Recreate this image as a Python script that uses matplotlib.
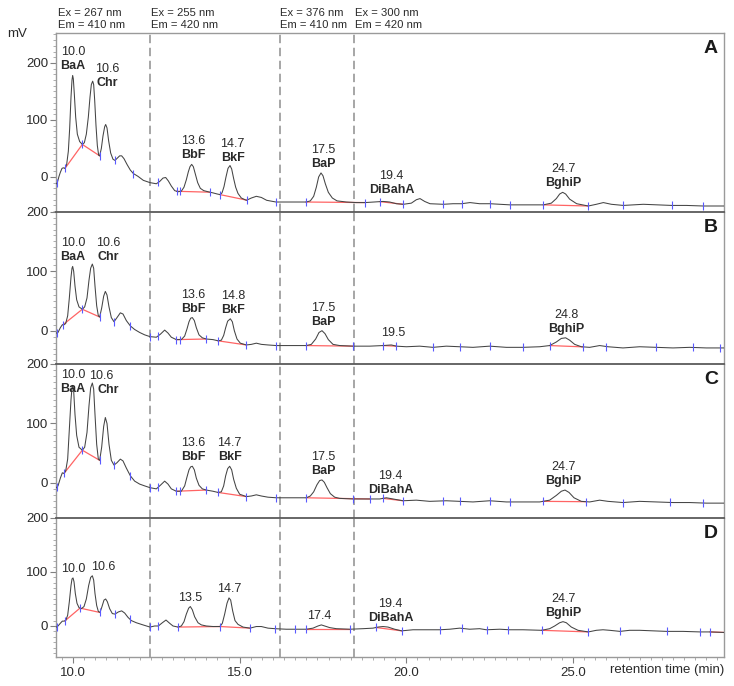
import numpy as np
import matplotlib
matplotlib.use("Agg")
import matplotlib.pyplot as plt
from matplotlib.ticker import MultipleLocator, FixedLocator
from matplotlib.transforms import blended_transform_factory

plt.rcParams['font.family'] = ['Liberation Sans', 'DejaVu Sans']

# ---------------- data ----------------
panel_names = ["A", "B", "C", "D"]
switch_t = [12.31, 16.20, 18.43]
ex_nm = [267, 255, 376, 300]
em_nm = [410, 420, 410, 420]
y_limits = {"A": (-61, 253), "B": (-56, 200), "C": (-59, 200), "D": (-58, 200)}
x_ticks = [10, 15, 20, 25]
y_ticks = [0, 100, 200]

# chromatogram traces: (retention time [min], signal [mV])
A_trace = [(9.50, -12), (9.53, -10), (9.58, 1), (9.62, 8), (9.67, 15), (9.71, 16), (9.76, 15), (9.81, 22),
           (9.86, 45), (9.90, 85), (9.94, 140), (9.97, 170), (9.99, 178), (10.01, 172), (10.04, 145),
           (10.08, 105), (10.13, 75), (10.20, 62), (10.28, 57), (10.34, 60), (10.40, 75), (10.46, 105),
           (10.51, 140), (10.55, 162), (10.59, 168), (10.62, 162), (10.65, 135), (10.69, 90), (10.73, 55),
           (10.77, 38), (10.80, 37), (10.85, 50), (10.90, 72), (10.95, 88), (10.98, 92), (11.02, 86),
           (11.07, 63), (11.13, 42), (11.20, 31), (11.26, 29), (11.33, 33), (11.40, 37), (11.46, 37),
           (11.53, 32), (11.62, 22), (11.72, 12), (11.81, 6), (11.95, 1), (12.11, -6), (12.31, -10),
           (12.50, -12), (12.60, -8), (12.70, -2), (12.78, -1), (12.86, -7), (12.95, -16), (13.05, -24),
           (13.15, -26), (13.25, -25), (13.33, -18), (13.40, -5), (13.46, 9), (13.51, 18), (13.56, 22),
           (13.61, 18), (13.67, 5), (13.74, -10), (13.82, -20), (13.92, -24), (14.05, -26), (14.20, -28),
           (14.33, -30), (14.41, -31), (14.47, -28), (14.53, -17), (14.59, 0), (14.65, 15), (14.71, 20),
           (14.76, 14), (14.82, -3), (14.88, -18), (14.95, -29), (15.05, -37), (15.20, -41), (15.35, -37),
           (15.50, -34), (15.65, -36), (15.81, -41), (16.09, -44), (16.50, -44), (17.00, -44), (17.12, -42),
           (17.22, -34), (17.30, -18), (17.37, 0), (17.44, 7), (17.50, 2), (17.57, -12), (17.66, -27),
           (17.78, -37), (17.92, -42), (18.20, -44), (18.50, -45), (18.76, -45), (19.05, -44), (19.30, -43),
           (19.50, -44), (19.70, -47), (19.91, -48), (20.15, -46), (20.30, -40), (20.41, -38), (20.55, -43),
           (20.71, -47), (21.11, -48), (21.40, -47), (21.66, -47), (21.91, -45), (22.20, -47), (22.51, -47),
           (23.11, -49), (23.60, -49), (24.11, -49), (24.35, -46), (24.50, -38), (24.60, -30), (24.69, -27),
           (24.78, -30), (24.90, -39), (25.11, -47), (25.46, -51), (25.70, -48), (25.91, -45), (26.15, -48),
           (26.51, -50), (26.80, -49), (27.11, -48), (27.50, -49), (27.96, -50), (28.40, -50), (28.91, -51),
           (29.55, -51)]

B_trace = [(9.50, -4), (9.55, -3), (9.62, 5), (9.68, 10), (9.73, 10), (9.78, 12), (9.84, 25), (9.89, 55),
           (9.94, 90), (9.97, 105), (9.99, 108), (10.02, 100), (10.06, 75), (10.11, 52), (10.18, 40),
           (10.28, 36), (10.35, 40), (10.42, 55), (10.48, 85), (10.53, 105), (10.58, 112), (10.62, 105),
           (10.66, 75), (10.71, 42), (10.76, 25), (10.80, 23), (10.86, 38), (10.92, 58), (10.97, 66),
           (11.02, 60), (11.08, 40), (11.15, 22), (11.23, 15), (11.32, 22), (11.42, 30), (11.50, 28),
           (11.60, 17), (11.72, 8), (11.85, 2), (12.00, -3), (12.15, -7), (12.31, -10), (12.50, -11),
           (12.62, -6), (12.75, 1), (12.85, -4), (12.95, -11), (13.10, -15), (13.25, -15), (13.35, -9),
           (13.42, 3), (13.48, 15), (13.53, 21), (13.58, 22), (13.64, 17), (13.70, 5), (13.78, -7),
           (13.88, -12), (14.00, -14), (14.20, -15), (14.35, -17), (14.45, -16), (14.52, -8), (14.58, 5),
           (14.64, 16), (14.72, 20), (14.78, 15), (14.84, 0), (14.92, -14), (15.02, -21), (15.20, -24),
           (15.35, -23), (15.50, -21), (15.65, -23), (15.85, -24), (16.10, -25), (16.50, -25), (17.00, -25),
           (17.15, -23), (17.28, -14), (17.38, -3), (17.47, 0), (17.56, -5), (17.66, -15), (17.80, -23),
           (18.00, -25), (18.40, -26), (18.90, -26), (19.30, -25), (19.55, -24), (19.70, -26), (20.00, -27),
           (20.40, -26), (20.80, -28), (21.20, -26), (21.60, -27), (22.00, -28), (22.50, -26), (23.00, -28),
           (23.50, -28), (24.00, -27), (24.30, -25), (24.50, -19), (24.65, -13), (24.78, -12), (24.90, -16),
           (25.05, -23), (25.25, -27), (25.50, -28), (25.80, -25), (26.05, -27), (26.50, -29), (27.00, -27),
           (27.50, -28), (28.00, -29), (28.50, -28), (29.00, -29), (29.55, -29)]

C_trace = [(9.50, -8), (9.55, -5), (9.62, 8), (9.68, 17), (9.73, 16), (9.78, 20), (9.84, 40), (9.89, 90),
           (9.94, 140), (9.97, 160), (9.99, 164), (10.02, 155), (10.06, 115), (10.11, 80), (10.18, 60),
           (10.28, 55), (10.35, 60), (10.42, 85), (10.48, 130), (10.53, 160), (10.58, 168), (10.62, 158),
           (10.66, 115), (10.71, 65), (10.76, 40), (10.80, 38), (10.86, 60), (10.92, 95), (10.97, 110),
           (11.02, 100), (11.08, 65), (11.15, 38), (11.23, 30), (11.32, 34), (11.42, 40), (11.50, 37),
           (11.60, 25), (11.72, 12), (11.85, 3), (12.00, -2), (12.15, -5), (12.31, -8), (12.50, -10),
           (12.62, -4), (12.75, 3), (12.85, -2), (12.95, -10), (13.10, -14), (13.25, -14), (13.35, -5),
           (13.42, 10), (13.48, 22), (13.53, 27), (13.58, 28), (13.64, 22), (13.70, 8), (13.78, -4),
           (13.88, -10), (14.00, -12), (14.20, -14), (14.35, -16), (14.45, -15), (14.52, -5), (14.58, 12),
           (14.64, 24), (14.70, 28), (14.76, 22), (14.82, 6), (14.90, -9), (15.00, -19), (15.20, -23),
           (15.35, -22), (15.50, -20), (15.65, -22), (15.85, -24), (16.10, -25), (16.50, -25), (17.00, -25),
           (17.12, -22), (17.22, -15), (17.32, -3), (17.40, 4), (17.47, 5), (17.54, 1), (17.62, -8),
           (17.72, -18), (17.85, -24), (18.00, -26), (18.40, -27), (18.90, -27), (19.20, -27), (19.40, -25),
           (19.60, -27), (19.90, -30), (20.30, -29), (20.70, -31), (21.20, -30), (21.60, -31), (22.00, -32),
           (22.50, -30), (23.00, -32), (23.50, -32), (24.00, -32), (24.30, -29), (24.50, -21), (24.65, -14),
           (24.76, -12), (24.88, -16), (25.03, -25), (25.25, -31), (25.50, -32), (25.80, -29), (26.05, -31),
           (26.50, -33), (27.00, -31), (27.50, -32), (28.00, -33), (28.50, -33), (29.00, -34), (29.55, -34)]

D_trace = [(9.50, -2), (9.55, 0), (9.62, 5), (9.68, 9), (9.73, 9), (9.78, 10), (9.84, 20), (9.89, 45),
           (9.94, 75), (9.97, 87), (10.00, 89), (10.03, 82), (10.07, 60), (10.12, 42), (10.18, 34),
           (10.25, 32), (10.33, 36), (10.40, 50), (10.47, 75), (10.53, 90), (10.58, 93), (10.62, 85),
           (10.66, 60), (10.71, 38), (10.76, 27), (10.81, 25), (10.87, 36), (10.93, 48), (10.98, 50),
           (11.03, 45), (11.10, 32), (11.18, 23), (11.26, 22), (11.36, 26), (11.46, 28), (11.55, 24),
           (11.65, 16), (11.75, 10), (11.90, 6), (12.10, 2), (12.31, -2), (12.45, 0), (12.56, 0), (12.68, 6),
           (12.79, 11), (12.90, 5), (13.00, 0), (13.15, -2), (13.25, 0), (13.33, 8), (13.40, 22), (13.47, 33),
           (13.52, 36), (13.58, 30), (13.65, 17), (13.75, 6), (13.85, 2), (14.00, 0), (14.20, -1),
           (14.41, -1), (14.48, 5), (14.55, 22), (14.62, 42), (14.68, 52), (14.73, 48), (14.79, 28),
           (14.86, 10), (14.95, 3), (15.10, -2), (15.31, -4), (15.50, -1), (15.65, -1), (15.85, -4),
           (16.06, -5), (16.40, -6), (16.70, -6), (17.00, -6), (17.20, -4), (17.35, 0), (17.45, 2),
           (17.55, 0), (17.70, -3), (17.90, -5), (18.31, -6), (18.70, -5), (19.00, -4), (19.15, -2),
           (19.30, -1), (19.45, -2), (19.65, -6), (19.86, -9), (20.20, -7), (20.60, -7), (21.00, -7),
           (21.30, -6), (21.60, -4), (21.90, -6), (22.20, -5), (22.40, -7), (22.80, -6), (23.10, -7),
           (23.50, -7), (24.06, -8), (24.30, -5), (24.45, 0), (24.60, 6), (24.70, 8), (24.80, 6),
           (24.95, -2), (25.15, -8), (25.46, -11), (25.70, -8), (25.90, -7), (26.10, -8), (26.41, -10),
           (26.70, -8), (27.00, -8), (27.40, -9), (27.81, -10), (28.30, -10), (28.81, -11), (29.11, -11),
           (29.55, -12)]

# integration start/end marks (min)
A_marks = [9.53, 9.76, 10.28, 10.80, 11.26, 11.81, 12.56, 13.11, 13.21, 14.11, 14.41, 15.21, 16.09, 16.99,
           18.76, 19.21, 19.91, 21.11, 21.66, 22.51, 23.11, 24.11, 25.46, 26.51, 27.96, 28.91]
B_marks = [9.53, 9.70, 10.28, 10.80, 11.23, 11.72, 12.31, 12.56, 13.10, 13.20, 14.00, 14.35, 15.20, 16.10,
           17.00, 18.40, 19.30, 19.70, 20.80, 21.60, 22.50, 23.50, 24.30, 25.30, 26.00, 27.50, 28.60, 29.40]
C_marks = [9.53, 9.73, 10.28, 10.80, 11.23, 11.72, 12.31, 12.56, 13.10, 13.20, 14.00, 14.35, 15.20, 16.10,
           17.00, 18.40, 18.90, 19.30, 19.90, 21.10, 21.60, 22.50, 23.10, 24.10, 25.40, 26.50, 27.90, 28.90]
D_marks = [9.52, 9.76, 10.21, 10.81, 11.26, 11.71, 12.31, 12.56, 13.15, 14.41, 15.31, 16.06, 16.66, 16.99,
           18.31, 19.09, 19.86, 21.01, 21.66, 22.41, 23.06, 24.06, 25.46, 26.41, 27.81, 28.81, 29.11]

# integration baselines (min)
A_base = [[9.76, 10.28, 10.80], [13.11, 14.11], [14.41, 15.21], [16.99, 18.76], [19.21, 19.91], [24.11, 25.46]]
B_base = [[9.70, 10.28, 10.80], [13.10, 14.00], [14.35, 15.20], [17.00, 18.40], [19.30, 19.70], [24.30, 25.30]]
C_base = [[9.73, 10.28, 10.80], [13.10, 14.00], [14.35, 15.20], [17.00, 18.90], [19.30, 19.90], [24.10, 25.40]]
D_base = [[9.76, 10.21, 10.81], [13.15, 14.41], [14.41, 15.31], [16.99, 18.31], [19.09, 19.86], [24.06, 25.46],
          [29.11, 29.55]]

# peak labels: retention time text, compound, apex signal (mV)
A_lab_rt = ["10.0", "10.6", "13.6", "14.7", "17.5", "19.4", "24.7"]
A_lab_name = ["BaA", "Chr", "BbF", "BkF", "BaP", "DiBahA", "BghiP"]
A_lab_h = [178, 168, 22, 20, 7, -43, -27]
B_lab_rt = ["10.0", "10.6", "13.6", "14.8", "17.5", "19.5", "24.8"]
B_lab_name = ["BaA", "Chr", "BbF", "BkF", "BaP", "", "BghiP"]
B_lab_h = [108, 112, 22, 20, 0, -24, -12]
C_lab_rt = ["10.0", "10.6", "13.6", "14.7", "17.5", "19.4", "24.7"]
C_lab_name = ["BaA", "Chr", "BbF", "BkF", "BaP", "DiBahA", "BghiP"]
C_lab_h = [164, 168, 28, 28, 5, -25, -12]
D_lab_rt = ["10.0", "10.6", "13.5", "14.7", "17.4", "19.4", "24.7"]
D_lab_name = ["", "", "", "", "", "DiBahA", "BghiP"]
D_lab_h = [89, 93, 36, 52, 2, -1, 8]

traces = {"A": A_trace, "B": B_trace, "C": C_trace, "D": D_trace}
marks = {"A": A_marks, "B": B_marks, "C": C_marks, "D": D_marks}
bases = {"A": A_base, "B": B_base, "C": C_base, "D": D_base}
labels = {"A": (A_lab_rt, A_lab_name, A_lab_h), "B": (B_lab_rt, B_lab_name, B_lab_h),
          "C": (C_lab_rt, C_lab_name, C_lab_h), "D": (D_lab_rt, D_lab_name, D_lab_h)}

# ---------------- style / layout ----------------
W, H = 734, 686
DPI = 100
PX = 72.0 / DPI  # points per pixel
ax_left, ax_right = 56, 724
panel_px = {"A": (32.7, 211.7), "B": (211.7, 364.0), "C": (364.0, 518.0), "D": (518.0, 657.3)}
xlim = (9.49, 29.53)

# label offsets (pixels): (dx number, dx name, dy name-center above apex)
lab_style = {("A", 1): (14, 14, -2), ("B", 1): (15, 15, 7), ("C", 0): (0, 0, -4), ("C", 1): (8, 15, -7),
             ("D", 1): (10, 10, 9), ("A", 3): (3, 3, 8), ("A", 5): (5, 5, 11), ("B", 5): (4, 4, 12),
             ("C", 5): (4, 4, 8), ("D", 5): (4, 4, 9)}

TRACE_C = "#444444"
RED_C = "#ff6464"
BLUE_C = "#5a5aff"
FRAME_C = "#9a9a9a"
SEP_C = "#5a5a5a"
TXT_C = "#2a2a2a"

fig = plt.figure(figsize=(W / DPI, H / DPI), dpi=DPI)

axes = {}
for p in panel_names:
    top, bot = panel_px[p]
    ax = fig.add_axes([ax_left / W, (H - bot) / H, (ax_right - ax_left) / W, (bot - top) / H])
    axes[p] = ax
    tr = np.array(traces[p], dtype=float)
    t, mv = tr[:, 0], tr[:, 1]
    ax.plot(t, mv, color=TRACE_C, lw=0.75, zorder=3)
    for seg in bases[p]:
        seg = np.array(seg)
        ax.plot(seg, np.interp(seg, t, mv), color=RED_C, lw=0.9, zorder=2)
    mk = np.array(marks[p])
    ax.plot(mk, np.interp(mk, t, mv), ls="none", marker="|", ms=5.5, mew=0.8, color=BLUE_C, zorder=4)

    for s in switch_t:
        ax.axvline(s, color="#8e8e8e", lw=1.1, ls=(0, (5.5, 3)), zorder=1)

    ax.set_xlim(*xlim)
    ax.set_ylim(*y_limits[p])
    ax.yaxis.set_major_locator(FixedLocator(y_ticks))
    ax.yaxis.set_minor_locator(MultipleLocator(10))
    ax.tick_params(axis="y", which="major", direction="out", length=4, width=0.8, color="#808080",
                   labelsize=9.5, labelcolor=TXT_C, pad=1.5)
    ax.tick_params(axis="y", which="minor", direction="out", length=2, width=0.6, color="#a0a0a0")
    ax.set_yticklabels([str(v) for v in y_ticks])

    for side in ["left", "right", "top", "bottom"]:
        ax.spines[side].set_color(FRAME_C)
        ax.spines[side].set_linewidth(1.0)
    if p != "A":
        ax.spines["top"].set_color(SEP_C)
        ax.spines["top"].set_linewidth(1.3)
    if p != "D":
        ax.spines["bottom"].set_visible(False)
        ax.tick_params(axis="x", which="both", bottom=False, labelbottom=False)

    rts, names, hs = labels[p]
    for i, (rt, nm, h) in enumerate(zip(rts, names, hs)):
        dxn, dxm, dy = lab_style.get((p, i), (0, 0, 9))
        x = float(rt)
        if nm:
            ax.annotate(nm, xy=(x, h), xytext=(dxm * PX, dy * PX), textcoords="offset points",
                        ha="center", va="center", fontsize=9, fontweight="bold", color=TXT_C, zorder=5)
            ax.annotate(rt, xy=(x, h), xytext=(dxn * PX, (dy + 14) * PX), textcoords="offset points",
                        ha="center", va="center", fontsize=9, color=TXT_C, zorder=5)
        else:
            ax.annotate(rt, xy=(x, h), xytext=(dxn * PX, dy * PX), textcoords="offset points",
                        ha="center", va="center", fontsize=9, color=TXT_C, zorder=5)

    ax.text(1 - 6.0 / (ax_right - ax_left), 1 - 7.5 / (bot - top), p, transform=ax.transAxes,
            ha="right", va="top", fontsize=14, fontweight="bold", color="#1a1a1a")

axD = axes["D"]
axD.xaxis.set_major_locator(FixedLocator(x_ticks))
axD.xaxis.set_minor_locator(MultipleLocator(1.0 / 3.0))
axD.set_xticklabels([f"{v:.1f}" for v in x_ticks])
axD.tick_params(axis="x", which="major", direction="out", length=4, width=0.8, color="#808080",
                labelsize=9.5, labelcolor=TXT_C, pad=3)
axD.tick_params(axis="x", which="minor", direction="out", length=2.5, width=0.6, color="#a0a0a0")

# header with excitation / emission wavelengths
axA = axes["A"]
htr = blended_transform_factory(axA.transData, fig.transFigure)
starts = [xlim[0] + 0.06] + [s + 0.02 for s in switch_t]
for x0, ex, em in zip(starts, ex_nm, em_nm):
    axA.text(x0, (H - 12.5) / H, f"Ex = {ex} nm", transform=htr, ha="left", va="center",
             fontsize=8.1, color=TXT_C, clip_on=False)
    axA.text(x0, (H - 25.5) / H, f"Em = {em} nm", transform=htr, ha="left", va="center",
             fontsize=8.1, color=TXT_C, clip_on=False)

fig.text(17.5 / W, (H - 34) / H, "mV", ha="center", va="center", fontsize=9.5, color=TXT_C)
fig.text(724 / W, (H - 670) / H, "retention time (min)", ha="right", va="center", fontsize=9.5, color=TXT_C)

fig.savefig("out.png", dpi=DPI)
